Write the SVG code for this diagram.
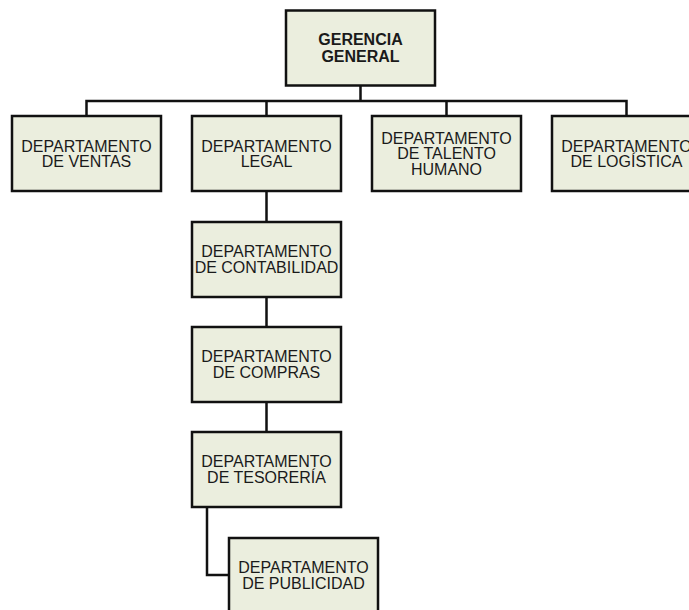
<svg xmlns="http://www.w3.org/2000/svg" width="689" height="610" viewBox="0 0 689 610">
<style>
.box{fill:#EBEEDE;stroke:#111;stroke-width:2.5}
.t{font-family:"Liberation Sans",Arial,sans-serif;font-size:16px;fill:#1a1a1a;text-anchor:middle}
.b{font-weight:bold}
.c{fill:none;stroke:#111;stroke-width:2.5}
</style>
<rect width="689" height="610" fill="#fff"/>
<g id="connectors">
<path class="c" d="M360.5 85.5V101M86.5 116V101H626.5V116M266.5 101V116M446.5 101V116"/>
<path class="c" d="M266.5 191V222M266.5 297V327M266.5 402V432"/>
<path class="c" d="M207 507V575H229"/>
</g>
<g id="gerencia">
<rect class="box" x="286" y="10.5" width="149" height="75"/>
<text class="t b" x="360.5" y="45">GERENCIA</text>
<text class="t b" x="360.5" y="61.5">GENERAL</text>
</g>
<g id="ventas">
<rect class="box" x="12" y="116" width="149" height="75"/>
<text class="t" x="86.5" y="151.5">DEPARTAMENTO</text>
<text class="t" x="86.5" y="167">DE VENTAS</text>
</g>
<g id="legal">
<rect class="box" x="192" y="116" width="149" height="75"/>
<text class="t" x="266.5" y="151.5">DEPARTAMENTO</text>
<text class="t" x="266.5" y="167">LEGAL</text>
</g>
<g id="talento">
<rect class="box" x="372" y="116" width="149" height="75"/>
<text class="t" x="446.5" y="143.5">DEPARTAMENTO</text>
<text class="t" x="446.5" y="159">DE TALENTO</text>
<text class="t" x="446.5" y="174.5">HUMANO</text>
</g>
<g id="logistica">
<rect class="box" x="552" y="116" width="149" height="75"/>
<text class="t" x="626.5" y="151.5">DEPARTAMENTO</text>
<text class="t" x="626.5" y="167">DE LOGÍSTICA</text>
</g>
<g id="contabilidad">
<rect class="box" x="192" y="222" width="149" height="75"/>
<text class="t" x="266.5" y="257">DEPARTAMENTO</text>
<text class="t" x="266.5" y="273">DE CONTABILIDAD</text>
</g>
<g id="compras">
<rect class="box" x="192" y="327" width="149" height="75"/>
<text class="t" x="266.5" y="362">DEPARTAMENTO</text>
<text class="t" x="266.5" y="378">DE COMPRAS</text>
</g>
<g id="tesoreria">
<rect class="box" x="192" y="432" width="149" height="75"/>
<text class="t" x="266.5" y="467">DEPARTAMENTO</text>
<text class="t" x="266.5" y="483">DE TESORERÍA</text>
</g>
<g id="publicidad">
<rect class="box" x="229" y="538" width="149" height="75"/>
<text class="t" x="303.5" y="573">DEPARTAMENTO</text>
<text class="t" x="303.5" y="589">DE PUBLICIDAD</text>
</g>
</svg>
